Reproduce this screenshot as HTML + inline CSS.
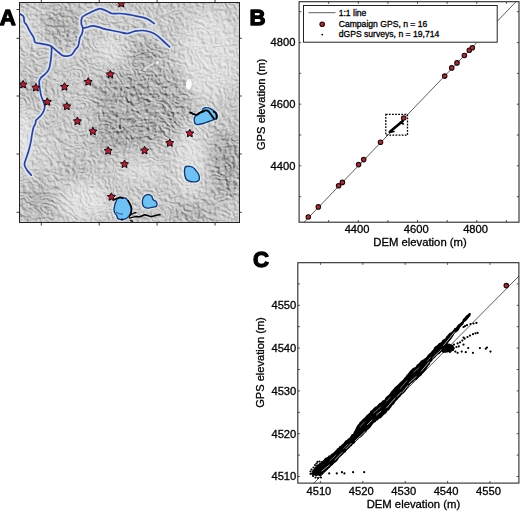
<!DOCTYPE html><html><head><meta charset="utf-8"><style>html,body{margin:0;padding:0;background:#fff;width:520px;height:511px;overflow:hidden}svg{display:block}text{font-family:"Liberation Sans",sans-serif}</style></head><body>
<svg width="520" height="511" viewBox="0 0 520 511">
<defs>
<clipPath id="mc"><rect x="19" y="2" width="221" height="221"/></clipPath>
<clipPath id="bc"><rect x="299" y="1.5" width="220" height="221"/></clipPath>
<clipPath id="cc"><rect x="298" y="262.5" width="221" height="221"/></clipPath>
<filter id="tx1" x="0" y="0" width="100%" height="100%" color-interpolation-filters="sRGB">
<feTurbulence type="fractalNoise" baseFrequency="0.035 0.04" numOctaves="5" seed="9"/>
<feComponentTransfer><feFuncR type="table" tableValues="0 0.5 0 0.5 0 0.5 0 0.5 0 0.5 0 0.5 0 0.5 0 0.5 0"/></feComponentTransfer>
<feColorMatrix type="matrix" values="0 0 0 0 0  0 0 0 0 0  0 0 0 0 0  1 0 0 0 0"/>
<feDiffuseLighting surfaceScale="3" diffuseConstant="1" lighting-color="#fff"><feDistantLight azimuth="315" elevation="45"/></feDiffuseLighting>
<feColorMatrix type="matrix" values="0.55 0 0 0 0.168  0.55 0 0 0 0.168  0.55 0 0 0 0.168  0 0 0 0 1"/>
</filter>
<filter id="tx2" x="0" y="0" width="100%" height="100%" color-interpolation-filters="sRGB">
<feTurbulence type="turbulence" baseFrequency="0.14 0.16" numOctaves="3" seed="8"/>
<feColorMatrix type="matrix" values="0 0 0 0 0  0 0 0 0 0  0 0 0 0 0  -2 0 0 0 1"/>
<feDiffuseLighting surfaceScale="2.5" diffuseConstant="1" lighting-color="#fff"><feDistantLight azimuth="315" elevation="45"/></feDiffuseLighting>
<feColorMatrix type="matrix" values="0.45 0 0 0 0.252  0.45 0 0 0 0.252  0.45 0 0 0 0.252  0 0 0 0 1"/>
</filter>
<filter id="tx3" x="0" y="0" width="100%" height="100%" color-interpolation-filters="sRGB">
<feTurbulence type="fractalNoise" baseFrequency="0.25" numOctaves="2" seed="2"/>
<feColorMatrix type="matrix" values="0 0 0 0 0  0 0 0 0 0  0 0 0 0 0  1 0 0 0 0"/>
<feDiffuseLighting surfaceScale="2" diffuseConstant="1" lighting-color="#fff"><feDistantLight azimuth="315" elevation="45"/></feDiffuseLighting>
<feColorMatrix type="matrix" values="0.5 0 0 0 0.170  0.5 0 0 0 0.170  0.5 0 0 0 0.170  0 0 0 0 1"/>
</filter>
<mask id="mk2" maskUnits="userSpaceOnUse" x="0" y="0" width="520" height="511"><g filter="url(#bl6)">
<ellipse cx="142" cy="112" rx="40" ry="36" fill="#fff" opacity="0.4"/>
<ellipse cx="72" cy="35" rx="24" ry="20" fill="#fff" opacity="0.5"/>
<ellipse cx="228" cy="180" rx="20" ry="28" fill="#fff" opacity="0.6"/>
<ellipse cx="145" cy="50" rx="18" ry="14" fill="#fff" opacity="0.5"/>
<path d="M96.0,85.0 C99.7,78.7 109.2,71.8 115.0,70.0 C120.8,68.2 125.2,73.7 131.0,74.0 C136.8,74.3 142.7,72.7 150.0,72.0 C157.3,71.3 169.0,67.7 175.0,70.0 C181.0,72.3 183.7,79.2 186.0,86.0 C188.3,92.8 189.8,103.7 189.0,111.0 C188.2,118.3 185.2,125.5 181.0,130.0 C176.8,134.5 169.2,135.8 164.0,138.0 C158.8,140.2 155.5,141.3 150.0,143.0 C144.5,144.7 136.8,147.5 131.0,148.0 C125.2,148.5 120.3,149.0 115.0,146.0 C109.7,143.0 102.7,136.3 99.0,130.0 C95.3,123.7 93.5,115.5 93.0,108.0 C92.5,100.5 92.3,91.3 96.0,85.0Z" fill="#fff" opacity="0.5"/>
</g></mask>
<filter id="bl6" x="-50%" y="-50%" width="200%" height="200%"><feGaussianBlur stdDeviation="7"/></filter>
<filter id="bl4" x="-50%" y="-50%" width="200%" height="200%"><feGaussianBlur stdDeviation="4"/></filter>
<filter id="bl3" x="-50%" y="-50%" width="200%" height="200%"><feGaussianBlur stdDeviation="3"/></filter>
</defs>
<g clip-path="url(#mc)">
<rect x="19" y="2" width="221" height="221" fill="#c8c8c8"/>
<g filter="url(#bl6)">
<ellipse cx="142" cy="112" rx="36" ry="32" fill="#808080" opacity="0.2"/>
<ellipse cx="62" cy="25" rx="20" ry="18" fill="#888888" opacity="0.35"/>
<ellipse cx="146" cy="58" rx="17" ry="16" fill="#858585" opacity="0.45"/>
<ellipse cx="226" cy="165" rx="15" ry="35" fill="#808080" opacity="0.5"/>
<ellipse cx="192" cy="213" rx="22" ry="11" fill="#888888" opacity="0.4"/>
<ellipse cx="38" cy="202" rx="20" ry="20" fill="#909090" opacity="0.35"/>
<ellipse cx="108" cy="140" rx="16" ry="12" fill="#888888" opacity="0.35"/>
<ellipse cx="75" cy="170" rx="14" ry="14" fill="#999999" opacity="0.25"/>
<ellipse cx="32" cy="88" rx="14" ry="16" fill="#999999" opacity="0.3"/>
<ellipse cx="210" cy="55" rx="30" ry="45" fill="#f4f4f4" opacity="0.45"/>
<ellipse cx="23" cy="140" rx="6" ry="34" fill="#ffffff" opacity="0.75"/>
<ellipse cx="190" cy="160" rx="15" ry="38" fill="#f8f8f8" opacity="0.45"/>
<ellipse cx="85" cy="200" rx="25" ry="18" fill="#fafafa" opacity="0.45"/>
<ellipse cx="110" cy="50" rx="14" ry="14" fill="#fafafa" opacity="0.45"/>
<ellipse cx="140" cy="172" rx="22" ry="9" fill="#fafafa" opacity="0.45"/>
<ellipse cx="45" cy="150" rx="10" ry="16" fill="#f0f0f0" opacity="0.3"/>
<ellipse cx="28" cy="30" rx="8" ry="16" fill="#ffffff" opacity="0.4"/>
</g>
<g filter="url(#bl4)">
<path d="M96.0,85.0 C99.7,78.7 109.2,71.8 115.0,70.0 C120.8,68.2 125.2,73.7 131.0,74.0 C136.8,74.3 142.7,72.7 150.0,72.0 C157.3,71.3 169.0,67.7 175.0,70.0 C181.0,72.3 183.7,79.2 186.0,86.0 C188.3,92.8 189.8,103.7 189.0,111.0 C188.2,118.3 185.2,125.5 181.0,130.0 C176.8,134.5 169.2,135.8 164.0,138.0 C158.8,140.2 155.5,141.3 150.0,143.0 C144.5,144.7 136.8,147.5 131.0,148.0 C125.2,148.5 120.3,149.0 115.0,146.0 C109.7,143.0 102.7,136.3 99.0,130.0 C95.3,123.7 93.5,115.5 93.0,108.0 C92.5,100.5 92.3,91.3 96.0,85.0Z" fill="#8a8a8a" opacity="0.35"/>
</g>
<rect x="19" y="2" width="221" height="221" filter="url(#tx1)" style="mix-blend-mode:overlay" opacity="0.9"/>
<rect x="19" y="2" width="221" height="221" filter="url(#tx3)" style="mix-blend-mode:overlay" opacity="0.6"/>
<rect x="19" y="2" width="221" height="221" filter="url(#tx2)" style="mix-blend-mode:overlay" mask="url(#mk2)"/>
<path d="M19.0,13.5 C19.2,13.6 19.7,13.8 20.5,14.3 C21.3,14.8 23.0,15.3 23.6,16.6 C24.2,17.9 23.9,20.6 24.4,22.0 C24.9,23.4 25.8,23.6 26.7,25.1 C27.6,26.6 28.6,29.1 29.8,31.2 C31.0,33.2 32.7,35.5 33.6,37.4 C34.5,39.2 33.8,41.2 35.2,42.3 C36.6,43.4 39.6,43.2 42.1,43.8 C44.6,44.4 48.9,45.1 50.5,45.8 C52.1,46.5 51.5,46.7 51.6,48.2 C51.7,49.7 51.5,52.7 51.3,55.0 C51.1,57.3 50.9,59.6 50.5,62.0 C50.1,64.3 49.8,67.1 48.9,69.1 C48.0,71.1 46.8,72.3 45.4,73.8 C44.0,75.3 41.7,76.5 40.7,77.9 C39.7,79.3 39.3,80.2 39.2,82.0 C39.1,83.8 39.5,86.7 39.9,89.0 C40.2,91.3 40.7,93.9 41.3,96.1 C41.9,98.3 43.0,100.2 43.6,102.0 C44.2,103.8 44.8,105.0 44.8,106.6 C44.8,108.1 44.2,109.8 43.6,111.3 C43.0,112.8 42.1,114.0 40.9,115.5 C39.6,117.0 37.0,118.9 36.1,120.3 C35.2,121.7 35.9,122.5 35.4,123.7 C34.9,125.0 34.0,126.0 33.4,127.8 C32.8,129.6 32.5,132.2 32.0,134.7 C31.5,137.2 31.2,140.2 30.6,142.9 C30.0,145.6 29.4,148.4 28.6,151.1 C27.8,153.8 26.5,157.0 25.8,159.3 C25.1,161.6 24.3,163.0 24.5,164.8 C24.7,166.6 26.1,168.6 27.2,170.3 C28.3,172.0 30.6,174.3 31.3,175.1" fill="none" stroke="#dbe6f8" stroke-width="5.2" stroke-linecap="round" stroke-linejoin="round" opacity="0.9"/>
<path d="M50.5,45.8 C51.0,46.2 52.2,47.0 53.6,48.2 C55.0,49.4 57.3,51.5 59.0,52.8 C60.7,54.1 61.6,55.4 63.6,55.8 C65.7,56.2 69.4,56.1 71.3,55.1 C73.2,54.1 74.0,51.2 75.2,49.7 C76.4,48.2 77.4,47.7 78.2,45.8 C79.0,43.9 79.2,40.2 79.8,38.2 C80.4,36.2 81.6,35.2 82.1,33.5 C82.6,31.8 82.9,29.9 82.8,28.2 C82.7,26.5 81.4,25.3 81.3,23.5 C81.2,21.7 81.2,18.9 82.1,17.4 C83.0,15.9 84.9,15.3 86.7,14.3 C88.5,13.3 90.8,12.1 92.8,11.2 C94.8,10.3 97.6,9.3 99.0,8.9 C100.4,8.5 99.8,8.5 101.2,8.9 C102.6,9.3 105.5,10.4 107.3,11.2 C109.1,12.0 109.9,13.1 111.9,13.5 C114.0,13.9 117.0,13.4 119.6,13.5 C122.2,13.6 124.7,13.9 127.3,14.3 C129.9,14.7 132.4,15.3 135.0,15.8 C137.6,16.3 140.4,16.8 142.7,17.4 C145.0,18.0 146.9,18.7 148.8,19.7 C150.7,20.7 153.3,22.9 154.2,23.5" fill="none" stroke="#dbe6f8" stroke-width="5.2" stroke-linecap="round" stroke-linejoin="round" opacity="0.9"/>
<path d="M82.8,28.2 C83.5,28.1 85.0,27.8 86.7,27.4 C88.4,27.0 90.7,25.8 92.8,25.8 C94.9,25.8 97.7,26.9 99.6,27.4 C101.5,27.9 102.2,28.4 104.2,28.9 C106.2,29.4 109.3,30.0 111.9,30.5 C114.5,31.0 117.0,31.5 119.6,32.0 C122.2,32.5 124.7,33.6 127.3,33.5 C129.9,33.4 132.4,31.7 135.0,31.2 C137.6,30.7 140.1,30.4 142.7,30.5 C145.3,30.6 148.1,31.2 150.4,32.0 C152.7,32.8 154.4,33.7 156.5,35.1 C158.6,36.5 160.5,38.5 162.7,40.5 C164.9,42.5 168.4,45.8 169.6,46.9" fill="none" stroke="#dbe6f8" stroke-width="5.2" stroke-linecap="round" stroke-linejoin="round" opacity="0.9"/>
<path d="M19.0,13.5 C19.2,13.6 19.7,13.8 20.5,14.3 C21.3,14.8 23.0,15.3 23.6,16.6 C24.2,17.9 23.9,20.6 24.4,22.0 C24.9,23.4 25.8,23.6 26.7,25.1 C27.6,26.6 28.6,29.1 29.8,31.2 C31.0,33.2 32.7,35.5 33.6,37.4 C34.5,39.2 33.8,41.2 35.2,42.3 C36.6,43.4 39.6,43.2 42.1,43.8 C44.6,44.4 48.9,45.1 50.5,45.8 C52.1,46.5 51.5,46.7 51.6,48.2 C51.7,49.7 51.5,52.7 51.3,55.0 C51.1,57.3 50.9,59.6 50.5,62.0 C50.1,64.3 49.8,67.1 48.9,69.1 C48.0,71.1 46.8,72.3 45.4,73.8 C44.0,75.3 41.7,76.5 40.7,77.9 C39.7,79.3 39.3,80.2 39.2,82.0 C39.1,83.8 39.5,86.7 39.9,89.0 C40.2,91.3 40.7,93.9 41.3,96.1 C41.9,98.3 43.0,100.2 43.6,102.0 C44.2,103.8 44.8,105.0 44.8,106.6 C44.8,108.1 44.2,109.8 43.6,111.3 C43.0,112.8 42.1,114.0 40.9,115.5 C39.6,117.0 37.0,118.9 36.1,120.3 C35.2,121.7 35.9,122.5 35.4,123.7 C34.9,125.0 34.0,126.0 33.4,127.8 C32.8,129.6 32.5,132.2 32.0,134.7 C31.5,137.2 31.2,140.2 30.6,142.9 C30.0,145.6 29.4,148.4 28.6,151.1 C27.8,153.8 26.5,157.0 25.8,159.3 C25.1,161.6 24.3,163.0 24.5,164.8 C24.7,166.6 26.1,168.6 27.2,170.3 C28.3,172.0 30.6,174.3 31.3,175.1" fill="none" stroke="#30428f" stroke-width="1.7" stroke-linecap="round" stroke-linejoin="round"/>
<path d="M50.5,45.8 C51.0,46.2 52.2,47.0 53.6,48.2 C55.0,49.4 57.3,51.5 59.0,52.8 C60.7,54.1 61.6,55.4 63.6,55.8 C65.7,56.2 69.4,56.1 71.3,55.1 C73.2,54.1 74.0,51.2 75.2,49.7 C76.4,48.2 77.4,47.7 78.2,45.8 C79.0,43.9 79.2,40.2 79.8,38.2 C80.4,36.2 81.6,35.2 82.1,33.5 C82.6,31.8 82.9,29.9 82.8,28.2 C82.7,26.5 81.4,25.3 81.3,23.5 C81.2,21.7 81.2,18.9 82.1,17.4 C83.0,15.9 84.9,15.3 86.7,14.3 C88.5,13.3 90.8,12.1 92.8,11.2 C94.8,10.3 97.6,9.3 99.0,8.9 C100.4,8.5 99.8,8.5 101.2,8.9 C102.6,9.3 105.5,10.4 107.3,11.2 C109.1,12.0 109.9,13.1 111.9,13.5 C114.0,13.9 117.0,13.4 119.6,13.5 C122.2,13.6 124.7,13.9 127.3,14.3 C129.9,14.7 132.4,15.3 135.0,15.8 C137.6,16.3 140.4,16.8 142.7,17.4 C145.0,18.0 146.9,18.7 148.8,19.7 C150.7,20.7 153.3,22.9 154.2,23.5" fill="none" stroke="#30428f" stroke-width="1.7" stroke-linecap="round" stroke-linejoin="round"/>
<path d="M82.8,28.2 C83.5,28.1 85.0,27.8 86.7,27.4 C88.4,27.0 90.7,25.8 92.8,25.8 C94.9,25.8 97.7,26.9 99.6,27.4 C101.5,27.9 102.2,28.4 104.2,28.9 C106.2,29.4 109.3,30.0 111.9,30.5 C114.5,31.0 117.0,31.5 119.6,32.0 C122.2,32.5 124.7,33.6 127.3,33.5 C129.9,33.4 132.4,31.7 135.0,31.2 C137.6,30.7 140.1,30.4 142.7,30.5 C145.3,30.6 148.1,31.2 150.4,32.0 C152.7,32.8 154.4,33.7 156.5,35.1 C158.6,36.5 160.5,38.5 162.7,40.5 C164.9,42.5 168.4,45.8 169.6,46.9" fill="none" stroke="#30428f" stroke-width="1.7" stroke-linecap="round" stroke-linejoin="round"/>
<ellipse cx="157.5" cy="62.5" rx="1.4" ry="2" fill="#f6f6f6" opacity="0.9"/>
<path d="M144,70 L149,66 L153,64" stroke="#eeeeee" stroke-width="1.6" fill="none" opacity="0.8" stroke-linecap="round"/>
<ellipse cx="188.9" cy="84.4" rx="2.9" ry="5.4" fill="#fcfcfc" transform="rotate(8 188.9 84.4)"/>
<path d="M194.3,120.1 C194.4,121.0 194.4,122.8 195.0,123.5 C195.6,124.2 196.4,124.6 197.8,124.6 C199.2,124.6 201.5,124.0 203.3,123.5 C205.2,123.0 207.2,122.1 208.9,121.5 C210.6,120.9 212.4,120.2 213.7,119.7 C215.0,119.2 216.0,119.5 216.5,118.5 C217.0,117.5 217.0,115.1 216.7,113.9 C216.3,112.7 215.4,112.1 214.4,111.2 C213.4,110.3 212.2,109.4 210.9,108.8 C209.6,108.2 208.1,107.6 206.8,107.6 C205.5,107.5 204.1,107.9 203.3,108.5 C202.5,109.1 202.7,110.2 201.9,111.1 C201.1,112.0 199.5,112.9 198.5,113.7 C197.5,114.5 196.4,115.2 195.7,115.9 C195.0,116.6 194.5,117.3 194.3,118.0 C194.1,118.7 194.2,119.2 194.3,120.1Z" fill="none" stroke="#e4eef8" stroke-width="4" opacity="0.7"/>
<path d="M185.2,167.0 C185.9,166.1 187.8,166.3 189.0,166.3 C190.2,166.3 191.4,166.4 192.5,167.0 C193.6,167.6 194.5,168.8 195.5,170.0 C196.5,171.2 197.8,172.7 198.5,174.0 C199.2,175.3 199.4,176.9 199.4,178.0 C199.4,179.1 199.2,180.2 198.5,180.8 C197.8,181.4 196.9,181.7 195.5,181.8 C194.1,181.9 191.5,181.9 190.0,181.5 C188.5,181.1 187.3,180.4 186.5,179.5 C185.7,178.6 185.3,177.3 185.0,176.0 C184.7,174.7 184.5,173.0 184.5,171.5 C184.5,170.0 184.4,167.9 185.2,167.0Z" fill="none" stroke="#e4eef8" stroke-width="4" opacity="0.7"/>
<path d="M148.3,194.5 C149.5,194.5 150.8,195.2 151.6,196.1 C152.4,196.9 152.3,198.7 153.0,199.6 C153.7,200.5 155.1,200.6 155.8,201.3 C156.5,202.1 156.9,203.2 157.0,204.1 C157.1,204.9 157.0,205.9 156.3,206.4 C155.6,206.9 154.0,206.9 153.0,207.1 C152.0,207.3 151.2,207.6 150.2,207.8 C149.2,208.0 148.0,208.3 146.9,208.1 C145.8,207.9 144.3,207.2 143.6,206.4 C142.9,205.7 142.7,204.8 142.5,203.6 C142.3,202.4 142.3,200.7 142.7,199.4 C143.0,198.2 143.7,196.9 144.6,196.1 C145.5,195.3 147.1,194.5 148.3,194.5Z" fill="none" stroke="#e4eef8" stroke-width="4" opacity="0.7"/>
<path d="M119.3,197.3 C120.1,197.1 121.0,198.2 122.0,198.3 C123.0,198.4 124.3,197.6 125.3,198.0 C126.3,198.4 127.2,199.5 128.0,200.6 C128.8,201.7 129.4,203.3 130.0,204.6 C130.6,205.9 131.2,207.1 131.3,208.6 C131.4,210.1 131.1,212.0 130.6,213.3 C130.1,214.6 129.4,215.7 128.6,216.6 C127.8,217.5 127.1,218.1 126.0,218.6 C124.9,219.1 123.3,219.6 122.0,219.6 C120.7,219.6 118.9,219.3 118.0,218.6 C117.1,217.9 117.2,216.3 116.6,215.3 C116.0,214.3 115.0,213.6 114.6,212.6 C114.2,211.6 114.0,210.4 114.0,209.3 C114.0,208.2 114.3,207.1 114.6,206.0 C114.9,204.9 115.2,203.6 115.6,202.5 C116.0,201.4 116.4,200.4 117.0,199.5 C117.6,198.6 118.5,197.5 119.3,197.3Z" fill="none" stroke="#e4eef8" stroke-width="4" opacity="0.7"/>
<path d="M194.3,120.1 C194.4,121.0 194.4,122.8 195.0,123.5 C195.6,124.2 196.4,124.6 197.8,124.6 C199.2,124.6 201.5,124.0 203.3,123.5 C205.2,123.0 207.2,122.1 208.9,121.5 C210.6,120.9 212.4,120.2 213.7,119.7 C215.0,119.2 216.0,119.5 216.5,118.5 C217.0,117.5 217.0,115.1 216.7,113.9 C216.3,112.7 215.4,112.1 214.4,111.2 C213.4,110.3 212.2,109.4 210.9,108.8 C209.6,108.2 208.1,107.6 206.8,107.6 C205.5,107.5 204.1,107.9 203.3,108.5 C202.5,109.1 202.7,110.2 201.9,111.1 C201.1,112.0 199.5,112.9 198.5,113.7 C197.5,114.5 196.4,115.2 195.7,115.9 C195.0,116.6 194.5,117.3 194.3,118.0 C194.1,118.7 194.2,119.2 194.3,120.1Z" fill="#6ec2f4" stroke="#17366e" stroke-width="1.35"/>
<path d="M185.2,167.0 C185.9,166.1 187.8,166.3 189.0,166.3 C190.2,166.3 191.4,166.4 192.5,167.0 C193.6,167.6 194.5,168.8 195.5,170.0 C196.5,171.2 197.8,172.7 198.5,174.0 C199.2,175.3 199.4,176.9 199.4,178.0 C199.4,179.1 199.2,180.2 198.5,180.8 C197.8,181.4 196.9,181.7 195.5,181.8 C194.1,181.9 191.5,181.9 190.0,181.5 C188.5,181.1 187.3,180.4 186.5,179.5 C185.7,178.6 185.3,177.3 185.0,176.0 C184.7,174.7 184.5,173.0 184.5,171.5 C184.5,170.0 184.4,167.9 185.2,167.0Z" fill="#6ec2f4" stroke="#17366e" stroke-width="1.35"/>
<path d="M148.3,194.5 C149.5,194.5 150.8,195.2 151.6,196.1 C152.4,196.9 152.3,198.7 153.0,199.6 C153.7,200.5 155.1,200.6 155.8,201.3 C156.5,202.1 156.9,203.2 157.0,204.1 C157.1,204.9 157.0,205.9 156.3,206.4 C155.6,206.9 154.0,206.9 153.0,207.1 C152.0,207.3 151.2,207.6 150.2,207.8 C149.2,208.0 148.0,208.3 146.9,208.1 C145.8,207.9 144.3,207.2 143.6,206.4 C142.9,205.7 142.7,204.8 142.5,203.6 C142.3,202.4 142.3,200.7 142.7,199.4 C143.0,198.2 143.7,196.9 144.6,196.1 C145.5,195.3 147.1,194.5 148.3,194.5Z" fill="#6ec2f4" stroke="#17366e" stroke-width="1.35"/>
<path d="M119.3,197.3 C120.1,197.1 121.0,198.2 122.0,198.3 C123.0,198.4 124.3,197.6 125.3,198.0 C126.3,198.4 127.2,199.5 128.0,200.6 C128.8,201.7 129.4,203.3 130.0,204.6 C130.6,205.9 131.2,207.1 131.3,208.6 C131.4,210.1 131.1,212.0 130.6,213.3 C130.1,214.6 129.4,215.7 128.6,216.6 C127.8,217.5 127.1,218.1 126.0,218.6 C124.9,219.1 123.3,219.6 122.0,219.6 C120.7,219.6 118.9,219.3 118.0,218.6 C117.1,217.9 117.2,216.3 116.6,215.3 C116.0,214.3 115.0,213.6 114.6,212.6 C114.2,211.6 114.0,210.4 114.0,209.3 C114.0,208.2 114.3,207.1 114.6,206.0 C114.9,204.9 115.2,203.6 115.6,202.5 C116.0,201.4 116.4,200.4 117.0,199.5 C117.6,198.6 118.5,197.5 119.3,197.3Z" fill="#6ec2f4" stroke="#17366e" stroke-width="1.35"/>
<path d="M116,212 C118,213.5 121,214.5 123,214" fill="none" stroke="#1d4a90" stroke-width="1"/>
<path d="M190.2,112.5 C190.7,112.7 192.0,113.4 193.0,113.8 C194.0,114.2 195.2,115.1 196.4,114.9 C197.6,114.7 198.9,113.3 199.9,112.8 C200.9,112.3 201.7,112.2 202.6,111.8 C203.5,111.4 204.5,110.5 205.4,110.4 C206.3,110.3 207.3,110.4 208.2,111.1 C209.1,111.8 210.0,113.3 210.9,114.5 C211.8,115.7 213.2,117.8 213.7,118.4" fill="none" stroke="#000" stroke-linecap="round" stroke-linejoin="round" stroke-width="1.9"/>
<path d="M213.7,111.6 C214.0,111.9 215.3,112.5 215.8,113.2 C216.3,113.9 216.6,115.1 216.7,116.0 C216.8,116.9 216.4,118.2 216.3,118.6" fill="none" stroke="#000" stroke-linecap="round" stroke-linejoin="round" stroke-width="1.9"/>
<path d="M113.3,200.0 C114.0,199.7 116.1,198.8 117.3,198.3 C118.5,197.9 119.6,197.4 120.6,197.3 C121.5,197.2 122.6,197.9 123.0,198.0" fill="none" stroke="#000" stroke-linecap="round" stroke-linejoin="round" stroke-width="1.7"/>
<path d="M128.0,200.6 C128.4,201.3 129.7,203.3 130.3,204.6 C130.9,205.9 131.5,207.1 131.6,208.6 C131.7,210.1 131.3,212.1 131.0,213.3 C130.7,214.5 129.8,215.6 129.5,216.0" fill="none" stroke="#000" stroke-linecap="round" stroke-linejoin="round" stroke-width="1.6"/>
<path d="M130.0,215.3 C130.5,215.0 132.0,213.9 133.0,213.5 C134.0,213.1 135.5,212.8 136.0,212.6" fill="none" stroke="#000" stroke-linecap="round" stroke-linejoin="round" stroke-width="1.3"/>
<path d="M129.3,218.0 C129.9,217.9 131.9,217.4 133.0,217.2 C134.1,217.0 135.5,216.7 136.0,216.6" fill="none" stroke="#000" stroke-linecap="round" stroke-linejoin="round" stroke-width="1.3"/>
<path d="M130.6,220.6 C130.9,220.7 132.3,221.2 132.6,221.3" fill="none" stroke="#000" stroke-linecap="round" stroke-linejoin="round" stroke-width="1.3"/>
<path d="M136.0,216.6 C136.7,216.6 139.1,216.9 140.4,216.6 C141.7,216.3 142.9,215.2 144.0,215.0 C145.1,214.8 146.0,215.1 147.1,215.3 C148.2,215.6 149.4,216.4 150.5,216.5 C151.6,216.6 152.7,216.2 153.8,216.0 C154.9,215.8 156.0,215.2 157.0,215.0 C158.0,214.8 159.4,214.7 159.9,214.6" fill="none" stroke="#000" stroke-linecap="round" stroke-linejoin="round" stroke-width="1.7"/>
<circle cx="122" cy="219.5" r="1" fill="#000"/>
<polygon points="23.10,80.40 24.33,82.90 27.09,83.30 25.10,85.25 25.57,88.00 23.10,86.70 20.63,88.00 21.10,85.25 19.11,83.30 21.87,82.90" fill="#a82438" stroke="#200306" stroke-width="1.0" stroke-linejoin="round"/>
<polygon points="35.90,83.50 37.13,86.00 39.89,86.40 37.90,88.35 38.37,91.10 35.90,89.80 33.43,91.10 33.90,88.35 31.91,86.40 34.67,86.00" fill="#a82438" stroke="#200306" stroke-width="1.0" stroke-linejoin="round"/>
<polygon points="47.30,97.80 48.53,100.30 51.29,100.70 49.30,102.65 49.77,105.40 47.30,104.10 44.83,105.40 45.30,102.65 43.31,100.70 46.07,100.30" fill="#a82438" stroke="#200306" stroke-width="1.0" stroke-linejoin="round"/>
<polygon points="64.50,82.70 65.73,85.20 68.49,85.60 66.50,87.55 66.97,90.30 64.50,89.00 62.03,90.30 62.50,87.55 60.51,85.60 63.27,85.20" fill="#a82438" stroke="#200306" stroke-width="1.0" stroke-linejoin="round"/>
<polygon points="88.20,77.70 89.43,80.20 92.19,80.60 90.20,82.55 90.67,85.30 88.20,84.00 85.73,85.30 86.20,82.55 84.21,80.60 86.97,80.20" fill="#a82438" stroke="#200306" stroke-width="1.0" stroke-linejoin="round"/>
<polygon points="110.40,70.20 111.63,72.70 114.39,73.10 112.40,75.05 112.87,77.80 110.40,76.50 107.93,77.80 108.40,75.05 106.41,73.10 109.17,72.70" fill="#a82438" stroke="#200306" stroke-width="1.0" stroke-linejoin="round"/>
<polygon points="66.80,102.20 68.03,104.70 70.79,105.10 68.80,107.05 69.27,109.80 66.80,108.50 64.33,109.80 64.80,107.05 62.81,105.10 65.57,104.70" fill="#a82438" stroke="#200306" stroke-width="1.0" stroke-linejoin="round"/>
<polygon points="77.40,117.10 78.63,119.60 81.39,120.00 79.40,121.95 79.87,124.70 77.40,123.40 74.93,124.70 75.40,121.95 73.41,120.00 76.17,119.60" fill="#a82438" stroke="#200306" stroke-width="1.0" stroke-linejoin="round"/>
<polygon points="92.90,127.20 94.13,129.70 96.89,130.10 94.90,132.05 95.37,134.80 92.90,133.50 90.43,134.80 90.90,132.05 88.91,130.10 91.67,129.70" fill="#a82438" stroke="#200306" stroke-width="1.0" stroke-linejoin="round"/>
<polygon points="108.20,146.70 109.43,149.20 112.19,149.60 110.20,151.55 110.67,154.30 108.20,153.00 105.73,154.30 106.20,151.55 104.21,149.60 106.97,149.20" fill="#a82438" stroke="#200306" stroke-width="1.0" stroke-linejoin="round"/>
<polygon points="124.50,160.00 125.73,162.50 128.49,162.90 126.50,164.85 126.97,167.60 124.50,166.30 122.03,167.60 122.50,164.85 120.51,162.90 123.27,162.50" fill="#a82438" stroke="#200306" stroke-width="1.0" stroke-linejoin="round"/>
<polygon points="144.60,146.40 145.83,148.90 148.59,149.30 146.60,151.25 147.07,154.00 144.60,152.70 142.13,154.00 142.60,151.25 140.61,149.30 143.37,148.90" fill="#a82438" stroke="#200306" stroke-width="1.0" stroke-linejoin="round"/>
<polygon points="169.80,138.80 171.03,141.30 173.79,141.70 171.80,143.65 172.27,146.40 169.80,145.10 167.33,146.40 167.80,143.65 165.81,141.70 168.57,141.30" fill="#a82438" stroke="#200306" stroke-width="1.0" stroke-linejoin="round"/>
<polygon points="189.80,129.20 191.03,131.70 193.79,132.10 191.80,134.05 192.27,136.80 189.80,135.50 187.33,136.80 187.80,134.05 185.81,132.10 188.57,131.70" fill="#a82438" stroke="#200306" stroke-width="1.0" stroke-linejoin="round"/>
<polygon points="111.40,192.80 112.63,195.30 115.39,195.70 113.40,197.65 113.87,200.40 111.40,199.10 108.93,200.40 109.40,197.65 107.41,195.70 110.17,195.30" fill="#a82438" stroke="#200306" stroke-width="1.0" stroke-linejoin="round"/>
<polygon points="121.20,-0.60 122.43,1.90 125.19,2.30 123.20,4.25 123.67,7.00 121.20,5.70 118.73,7.00 119.20,4.25 117.21,2.30 119.97,1.90" fill="#a82438" stroke="#200306" stroke-width="1.0" stroke-linejoin="round"/>
</g>
<rect x="19.5" y="2.5" width="220" height="220" fill="none" stroke="#222" stroke-width="1"/>
<line x1="41.3" y1="0" x2="41.3" y2="2.5" stroke="#222" stroke-width="0.9"/>
<line x1="41.3" y1="222.5" x2="41.3" y2="225.5" stroke="#222" stroke-width="0.9"/>
<line x1="99.2" y1="0" x2="99.2" y2="2.5" stroke="#222" stroke-width="0.9"/>
<line x1="99.2" y1="222.5" x2="99.2" y2="225.5" stroke="#222" stroke-width="0.9"/>
<line x1="157.1" y1="0" x2="157.1" y2="2.5" stroke="#222" stroke-width="0.9"/>
<line x1="157.1" y1="222.5" x2="157.1" y2="225.5" stroke="#222" stroke-width="0.9"/>
<line x1="215" y1="0" x2="215" y2="2.5" stroke="#222" stroke-width="0.9"/>
<line x1="215" y1="222.5" x2="215" y2="225.5" stroke="#222" stroke-width="0.9"/>
<line x1="16.5" y1="9.5" x2="19.5" y2="9.5" stroke="#222" stroke-width="0.9"/>
<line x1="16.5" y1="38.3" x2="19.5" y2="38.3" stroke="#222" stroke-width="0.9"/>
<line x1="16.5" y1="96" x2="19.5" y2="96" stroke="#222" stroke-width="0.9"/>
<line x1="16.5" y1="154" x2="19.5" y2="154" stroke="#222" stroke-width="0.9"/>
<line x1="16.5" y1="212.3" x2="19.5" y2="212.3" stroke="#222" stroke-width="0.9"/>
<line x1="239.5" y1="38.3" x2="241.8" y2="38.3" stroke="#222" stroke-width="0.9"/>
<line x1="239.5" y1="96" x2="241.8" y2="96" stroke="#222" stroke-width="0.9"/>
<line x1="239.5" y1="154" x2="241.8" y2="154" stroke="#222" stroke-width="0.9"/>
<line x1="239.5" y1="212.3" x2="241.8" y2="212.3" stroke="#222" stroke-width="0.9"/>
<text x="-0.3" y="25" font-size="22.2" font-weight="bold" fill="#000" stroke="#000" stroke-width="1.3" stroke-linejoin="round">A</text>
<text x="249.6" y="25.1" font-size="22.2" font-weight="bold" fill="#000" stroke="#000" stroke-width="1.3" stroke-linejoin="round">B</text>
<text x="253" y="266.5" font-size="22.2" font-weight="bold" fill="#000" stroke="#000" stroke-width="1.3" stroke-linejoin="round">C</text>
<g clip-path="url(#bc)"><line x1="299.06" y1="227.48" x2="524.172" y2="-6.751999999999981" stroke="#5e5e5e" stroke-width="1"/></g>
<path d="M389.9,131.7 L402.8,121.1" stroke="#000" stroke-width="2.6" stroke-linecap="round"/>
<path d="M389.5,132.5 L394,131.5" stroke="#000" stroke-width="1.6" stroke-linecap="round"/>
<path d="M400,122.5 L403.5,124" stroke="#000" stroke-width="1.4" stroke-linecap="round"/>
<rect x="385.8" y="114.4" width="21.7" height="20.8" fill="none" stroke="#000" stroke-width="1.3" stroke-dasharray="1.8 1.3"/>
<circle cx="308.3" cy="217" r="2.25" fill="#9a3444" stroke="#2a0404" stroke-width="1.1"/>
<circle cx="318.3" cy="206.9" r="2.25" fill="#9a3444" stroke="#2a0404" stroke-width="1.1"/>
<circle cx="338.6" cy="185.8" r="2.25" fill="#9a3444" stroke="#2a0404" stroke-width="1.1"/>
<circle cx="342.4" cy="182.4" r="2.25" fill="#9a3444" stroke="#2a0404" stroke-width="1.1"/>
<circle cx="358.6" cy="164.6" r="2.25" fill="#9a3444" stroke="#2a0404" stroke-width="1.1"/>
<circle cx="363.7" cy="159.6" r="2.25" fill="#9a3444" stroke="#2a0404" stroke-width="1.1"/>
<circle cx="380.5" cy="142.3" r="2.25" fill="#9a3444" stroke="#2a0404" stroke-width="1.1"/>
<circle cx="403.7" cy="118" r="2.25" fill="#9a3444" stroke="#2a0404" stroke-width="1.1"/>
<circle cx="444.7" cy="76.1" r="2.25" fill="#9a3444" stroke="#2a0404" stroke-width="1.1"/>
<circle cx="451.7" cy="67.9" r="2.25" fill="#9a3444" stroke="#2a0404" stroke-width="1.1"/>
<circle cx="457" cy="62.9" r="2.25" fill="#9a3444" stroke="#2a0404" stroke-width="1.1"/>
<circle cx="464.4" cy="55.5" r="2.25" fill="#9a3444" stroke="#2a0404" stroke-width="1.1"/>
<circle cx="469.3" cy="50.2" r="2.25" fill="#9a3444" stroke="#2a0404" stroke-width="1.1"/>
<circle cx="472.3" cy="47.8" r="2.25" fill="#9a3444" stroke="#2a0404" stroke-width="1.1"/>
<rect x="299.1" y="1.7" width="219.9" height="220.5" fill="none" stroke="#2a2a2a" stroke-width="1.1"/>
<line x1="328.7" y1="222.2" x2="328.7" y2="220.0" stroke="#2a2a2a" stroke-width="0.8"/>
<line x1="328.7" y1="1.7" x2="328.7" y2="3.9000000000000004" stroke="#2a2a2a" stroke-width="0.8"/>
<line x1="358.3" y1="222.2" x2="358.3" y2="220.0" stroke="#2a2a2a" stroke-width="0.8"/>
<line x1="358.3" y1="1.7" x2="358.3" y2="3.9000000000000004" stroke="#2a2a2a" stroke-width="0.8"/>
<line x1="387.9" y1="222.2" x2="387.9" y2="220.0" stroke="#2a2a2a" stroke-width="0.8"/>
<line x1="387.9" y1="1.7" x2="387.9" y2="3.9000000000000004" stroke="#2a2a2a" stroke-width="0.8"/>
<line x1="417.5" y1="222.2" x2="417.5" y2="220.0" stroke="#2a2a2a" stroke-width="0.8"/>
<line x1="417.5" y1="1.7" x2="417.5" y2="3.9000000000000004" stroke="#2a2a2a" stroke-width="0.8"/>
<line x1="447.2" y1="222.2" x2="447.2" y2="220.0" stroke="#2a2a2a" stroke-width="0.8"/>
<line x1="447.2" y1="1.7" x2="447.2" y2="3.9000000000000004" stroke="#2a2a2a" stroke-width="0.8"/>
<line x1="476.8" y1="222.2" x2="476.8" y2="220.0" stroke="#2a2a2a" stroke-width="0.8"/>
<line x1="476.8" y1="1.7" x2="476.8" y2="3.9000000000000004" stroke="#2a2a2a" stroke-width="0.8"/>
<line x1="506.4" y1="222.2" x2="506.4" y2="220.0" stroke="#2a2a2a" stroke-width="0.8"/>
<line x1="506.4" y1="1.7" x2="506.4" y2="3.9000000000000004" stroke="#2a2a2a" stroke-width="0.8"/>
<line x1="299.1" y1="196.7" x2="301.3" y2="196.7" stroke="#2a2a2a" stroke-width="0.8"/>
<line x1="519.0" y1="196.7" x2="516.8" y2="196.7" stroke="#2a2a2a" stroke-width="0.8"/>
<line x1="299.1" y1="165.8" x2="301.3" y2="165.8" stroke="#2a2a2a" stroke-width="0.8"/>
<line x1="519.0" y1="165.8" x2="516.8" y2="165.8" stroke="#2a2a2a" stroke-width="0.8"/>
<line x1="299.1" y1="135.0" x2="301.3" y2="135.0" stroke="#2a2a2a" stroke-width="0.8"/>
<line x1="519.0" y1="135.0" x2="516.8" y2="135.0" stroke="#2a2a2a" stroke-width="0.8"/>
<line x1="299.1" y1="104.2" x2="301.3" y2="104.2" stroke="#2a2a2a" stroke-width="0.8"/>
<line x1="519.0" y1="104.2" x2="516.8" y2="104.2" stroke="#2a2a2a" stroke-width="0.8"/>
<line x1="299.1" y1="73.4" x2="301.3" y2="73.4" stroke="#2a2a2a" stroke-width="0.8"/>
<line x1="519.0" y1="73.4" x2="516.8" y2="73.4" stroke="#2a2a2a" stroke-width="0.8"/>
<line x1="299.1" y1="42.6" x2="301.3" y2="42.6" stroke="#2a2a2a" stroke-width="0.8"/>
<line x1="519.0" y1="42.6" x2="516.8" y2="42.6" stroke="#2a2a2a" stroke-width="0.8"/>
<line x1="299.1" y1="11.7" x2="301.3" y2="11.7" stroke="#2a2a2a" stroke-width="0.8"/>
<line x1="519.0" y1="11.7" x2="516.8" y2="11.7" stroke="#2a2a2a" stroke-width="0.8"/>
<text x="357.1" y="232.9" font-size="11.2" text-anchor="middle" fill="#000" stroke="#000" stroke-width="0.3">4400</text>
<text x="295.4" y="169.6" font-size="11.2" text-anchor="end" fill="#000" stroke="#000" stroke-width="0.3">4400</text>
<text x="416.3" y="232.9" font-size="11.2" text-anchor="middle" fill="#000" stroke="#000" stroke-width="0.3">4600</text>
<text x="295.4" y="108.0" font-size="11.2" text-anchor="end" fill="#000" stroke="#000" stroke-width="0.3">4600</text>
<text x="475.6" y="232.9" font-size="11.2" text-anchor="middle" fill="#000" stroke="#000" stroke-width="0.3">4800</text>
<text x="295.4" y="46.4" font-size="11.2" text-anchor="end" fill="#000" stroke="#000" stroke-width="0.3">4800</text>
<text x="420" y="246" font-size="11.3" text-anchor="middle" fill="#000" stroke="#000" stroke-width="0.3">DEM elevation (m)</text>
<text transform="translate(265.2,104.4) rotate(-90)" font-size="11.2" text-anchor="middle" fill="#000" stroke="#000" stroke-width="0.3">GPS elevation (m)</text>
<rect x="303.5" y="5.5" width="193.7" height="36.7" fill="#fff" stroke="#222" stroke-width="1"/>
<line x1="308.5" y1="12.7" x2="335.5" y2="12.7" stroke="#5e5e5e" stroke-width="1"/>
<circle cx="322.2" cy="24.3" r="2.25" fill="#9a3444" stroke="#2a0404" stroke-width="1.1"/>
<circle cx="322.2" cy="34.6" r="0.9" fill="#000"/>
<text x="338.7" y="16.1" font-size="8.6" fill="#000" stroke="#000" stroke-width="0.3">1:1 line</text>
<text x="338.7" y="26.9" font-size="8.6" fill="#000" stroke="#000" stroke-width="0.3">Campaign GPS, n = 16</text>
<text x="338.7" y="37.4" font-size="8.6" fill="#000" stroke="#000" stroke-width="0.3">dGPS surveys, n = 19,714</text>
<g clip-path="url(#cc)">
<line x1="278.0" y1="519.3" x2="540.88" y2="253.94" stroke="#5e5e5e" stroke-width="1"/>
<path d="M312.1,470.8 L313.3,469.5 L314.7,467.8 L315.6,466.2 L316.5,465.1 L318.2,464.2 L319.3,463.3 L320.2,462.5 L321.5,462.3 L322.6,461.1 L324.2,459.2 L325.0,457.8 L326.1,457.7 L327.8,456.7 L328.9,455.3 L330.1,455.4 L331.1,454.0 L332.2,453.4 L333.9,452.3 L334.8,451.1 L336.2,450.1 L337.0,448.4 L338.3,448.0 L339.5,446.0 L340.9,445.8 L342.3,444.1 L343.3,443.4 L344.1,442.3 L345.8,440.2 L346.9,439.9 L347.8,438.8 L349.5,437.7 L350.4,436.4 L351.5,434.4 L353.1,433.7 L353.8,432.0 L355.1,429.7 L356.5,426.8 L357.5,424.9 L358.7,424.0 L359.7,422.1 L361.2,421.1 L362.3,419.5 L363.5,418.5 L365.1,417.3 L365.8,416.0 L367.3,414.8 L368.6,413.5 L369.7,412.7 L370.5,410.8 L371.8,410.3 L373.2,408.6 L374.3,407.4 L375.6,406.6 L376.6,406.3 L377.9,404.7 L379.1,403.3 L380.4,402.7 L381.8,401.6 L382.7,400.2 L384.3,400.0 L385.4,397.7 L386.5,396.6 L387.5,395.7 L389.1,394.4 L390.1,393.0 L391.1,391.6 L392.3,390.3 L393.6,388.7 L394.5,387.5 L396.2,386.0 L397.5,384.9 L398.5,384.1 L399.8,382.6 L400.7,381.7 L402.1,380.4 L403.2,379.5 L404.1,378.0 L405.7,376.4 L406.7,374.7 L407.9,373.8 L409.3,371.8 L410.6,370.2 L411.6,369.3 L413.0,367.9 L414.2,367.6 L415.5,366.9 L416.6,365.0 L417.7,363.9 L418.6,363.4 L420.1,361.7 L420.9,360.7 L422.6,359.8 L423.7,359.2 L424.5,358.4 L426.0,357.5 L427.1,356.0 L428.4,354.3 L429.7,353.2 L430.6,352.5 L432.1,350.6 L433.1,349.8 L434.1,347.6 L435.4,346.3 L437.0,345.2 L437.8,344.4 L439.1,343.1 L440.6,342.4 L441.7,341.4 L442.6,339.7 L444.2,339.1 L445.2,338.4 L446.4,336.2 L447.5,335.2 L448.7,333.8 L449.8,332.7 L451.1,332.2 L452.4,331.1 L453.5,329.7 L454.6,327.9 L455.9,327.8 L457.2,325.8 L458.2,324.6 L459.7,323.6 L460.5,322.7 L462.0,321.4 L463.0,318.9 L464.7,317.4 L465.5,316.2 L466.7,314.9 L467.8,314.4 L469.0,313.0 L470.7,313.0 L470.6,315.6 L469.0,317.4 L467.9,318.7 L466.5,320.5 L465.5,321.2 L464.2,322.2 L463.4,324.2 L462.0,325.6 L460.7,326.7 L459.9,328.1 L458.5,330.6 L457.3,331.6 L455.9,332.4 L454.6,333.5 L453.7,335.2 L452.2,337.4 L451.3,338.9 L449.7,340.8 L448.6,341.9 L447.8,343.7 L446.2,345.6 L445.3,347.8 L444.2,348.6 L442.6,349.8 L441.7,351.5 L440.6,352.8 L439.4,354.0 L438.1,354.5 L436.9,355.4 L435.9,356.7 L434.7,357.9 L432.9,359.6 L432.2,361.0 L430.6,362.2 L429.7,364.5 L428.2,365.9 L427.1,368.1 L426.0,369.7 L424.6,371.4 L423.9,372.5 L422.4,373.8 L421.2,375.7 L419.8,376.6 L418.7,377.2 L417.5,379.1 L416.5,380.0 L415.3,379.8 L413.7,381.6 L412.6,382.6 L411.4,383.3 L410.4,384.2 L409.1,385.9 L407.7,387.7 L407.0,388.7 L405.6,391.2 L404.4,392.4 L403.4,393.6 L401.7,394.6 L400.8,396.1 L399.6,397.3 L398.5,398.3 L397.3,400.0 L395.9,400.9 L394.7,403.1 L393.8,404.4 L392.2,405.6 L391.5,406.9 L390.3,408.3 L389.1,410.2 L387.4,410.9 L386.5,413.0 L385.0,413.9 L384.1,414.8 L382.9,416.0 L381.8,417.2 L380.4,418.6 L379.3,418.5 L377.8,420.3 L376.5,420.8 L375.7,422.0 L374.2,422.4 L372.9,423.8 L372.1,425.0 L370.8,426.9 L369.7,428.3 L368.5,429.3 L367.3,430.3 L366.3,432.0 L364.8,433.3 L363.8,434.6 L362.5,435.8 L361.3,436.9 L359.9,437.8 L358.9,438.6 L357.8,439.7 L356.3,440.7 L355.4,442.1 L354.2,443.8 L352.8,444.3 L351.5,446.2 L350.4,446.5 L349.5,447.9 L347.9,449.1 L346.6,450.4 L345.7,452.3 L344.1,453.0 L343.2,454.1 L341.9,455.2 L340.6,456.2 L339.3,457.6 L338.4,459.0 L337.3,460.9 L335.7,462.2 L334.6,463.1 L333.5,463.9 L332.2,465.5 L330.9,465.9 L329.7,467.9 L329.1,468.1 L327.5,469.7 L326.3,470.6 L325.1,472.0 L323.9,472.4 L322.9,474.3 L321.6,474.8 L320.7,475.9 L318.9,476.2 L318.2,475.3 L316.7,476.3 L315.6,476.0 L314.6,475.5 L312.9,475.8 L312.2,476.0Z" fill="#000"/>
<path d="M440,350 L444,345 L449,343.5 L453,345 L455,348.5 L452,351.5 L447,352.5 L443,353 Z" fill="#000"/>
<path d="M322.0,471.0 L329.2,465.1 M334.8,460.0 L342.0,452.7 M346.0,448.7 L351.3,443.3 M355.4,440.6 L365.0,431.7 M367.5,424.7 L372.1,420.0 M376.6,414.8 L380.9,411.3 M386.7,407.8 L395.3,397.9 M397.1,396.5 L401.2,392.2 M402.5,392.3 L407.8,385.6 M409.0,383.0 L416.2,376.6 M421.4,371.1 L429.1,362.0 M432.6,358.0 L441.2,349.7 M443.6,345.4 L454.6,331.9" stroke="#fff" stroke-width="0.8" opacity="0.85" fill="none" stroke-linecap="round"/>
<path d="M330.0,460.7 L335.8,455.3 M343.7,448.5 L347.8,444.3 M360.0,426.7 L364.6,421.9 M373.6,413.0 L380.5,407.3 M386.5,401.2 L390.3,397.0 M400.1,388.7 L407.0,380.7 M413.6,372.1 L419.1,367.6 M427.3,361.2 L430.6,357.2" stroke="#fff" stroke-width="0.6" opacity="0.7" fill="none" stroke-linecap="round"/>
<circle cx="310.5" cy="471.5" r="1.1" fill="#000"/>
<circle cx="311.5" cy="469.5" r="1.1" fill="#000"/>
<circle cx="312" cy="473.5" r="1.1" fill="#000"/>
<circle cx="313.5" cy="467.5" r="1.1" fill="#000"/>
<circle cx="315" cy="465" r="1.1" fill="#000"/>
<circle cx="316.5" cy="463.5" r="1.1" fill="#000"/>
<circle cx="317.5" cy="461.8" r="1.1" fill="#000"/>
<circle cx="319.5" cy="461.5" r="1.1" fill="#000"/>
<circle cx="322" cy="462" r="1.1" fill="#000"/>
<circle cx="313" cy="476" r="1.1" fill="#000"/>
<circle cx="315.5" cy="477.5" r="1.1" fill="#000"/>
<circle cx="318" cy="478" r="1.1" fill="#000"/>
<circle cx="321" cy="477.5" r="1.1" fill="#000"/>
<circle cx="310.5" cy="474" r="1.1" fill="#000"/>
<circle cx="323" cy="466" r="1.1" fill="#000"/>
<circle cx="324.5" cy="464" r="1.1" fill="#000"/>
<circle cx="329.2" cy="473.4" r="1.1" fill="#000"/>
<circle cx="336.8" cy="473.4" r="1.1" fill="#000"/>
<circle cx="341.9" cy="472.2" r="1.1" fill="#000"/>
<circle cx="344.4" cy="473.4" r="1.1" fill="#000"/>
<circle cx="353.1" cy="472.2" r="1.1" fill="#000"/>
<circle cx="364.2" cy="472.2" r="1.1" fill="#000"/>
<circle cx="452.3" cy="348.1" r="1.1" fill="#000"/>
<circle cx="455.3" cy="351.6" r="1.1" fill="#000"/>
<circle cx="456.4" cy="347" r="1.1" fill="#000"/>
<circle cx="457.6" cy="352.8" r="1.1" fill="#000"/>
<circle cx="458.8" cy="346.4" r="1.1" fill="#000"/>
<circle cx="461.7" cy="351.6" r="1.1" fill="#000"/>
<circle cx="463.5" cy="344.6" r="1.1" fill="#000"/>
<circle cx="465.8" cy="352.2" r="1.1" fill="#000"/>
<circle cx="468.2" cy="348.1" r="1.1" fill="#000"/>
<circle cx="472.9" cy="352.8" r="1.1" fill="#000"/>
<circle cx="479.9" cy="348.1" r="1.1" fill="#000"/>
<circle cx="485.8" cy="348.7" r="1.1" fill="#000"/>
<circle cx="487" cy="347.5" r="1.1" fill="#000"/>
<circle cx="490.5" cy="351.6" r="1.1" fill="#000"/>
<circle cx="454" cy="344.6" r="1.1" fill="#000"/>
<circle cx="457.6" cy="343.4" r="1.1" fill="#000"/>
<circle cx="460" cy="342.3" r="1.1" fill="#000"/>
<circle cx="462.3" cy="340.5" r="1.1" fill="#000"/>
<circle cx="463.5" cy="337.6" r="1.1" fill="#000"/>
<circle cx="449" cy="349" r="1.1" fill="#000"/>
<circle cx="451" cy="346" r="1.1" fill="#000"/>
<circle cx="447.5" cy="351" r="1.1" fill="#000"/>
<circle cx="450" cy="352" r="1.1" fill="#000"/>
<circle cx="453" cy="350" r="1.1" fill="#000"/>
<circle cx="463.5" cy="327" r="1.1" fill="#000"/>
<circle cx="465" cy="326.2" r="1.1" fill="#000"/>
<circle cx="467" cy="325.2" r="1.1" fill="#000"/>
<circle cx="470.5" cy="324" r="1.1" fill="#000"/>
<circle cx="473.5" cy="323.5" r="1.1" fill="#000"/>
<circle cx="476.4" cy="322.9" r="1.1" fill="#000"/>
<circle cx="464.6" cy="338.7" r="1.1" fill="#000"/>
<circle cx="467.5" cy="337" r="1.1" fill="#000"/>
<circle cx="470" cy="335.6" r="1.1" fill="#000"/>
<circle cx="473" cy="334.2" r="1.1" fill="#000"/>
<circle cx="475.5" cy="333.3" r="1.1" fill="#000"/>
<circle cx="477.6" cy="332.9" r="1.1" fill="#000"/>
<circle cx="506.3" cy="285.6" r="2.25" fill="#9a3444" stroke="#2a0404" stroke-width="1.1"/>
</g>
<rect x="297.8" y="262.7" width="221.1" height="220.4" fill="none" stroke="#2a2a2a" stroke-width="1.1"/>
<line x1="320.4" y1="483.1" x2="320.4" y2="480.90000000000003" stroke="#2a2a2a" stroke-width="0.8"/>
<line x1="320.4" y1="262.7" x2="320.4" y2="264.9" stroke="#2a2a2a" stroke-width="0.8"/>
<line x1="297.8" y1="476.5" x2="300.0" y2="476.5" stroke="#2a2a2a" stroke-width="0.8"/>
<line x1="518.9" y1="476.5" x2="516.6999999999999" y2="476.5" stroke="#2a2a2a" stroke-width="0.8"/>
<line x1="297.8" y1="455.1" x2="300.0" y2="455.1" stroke="#2a2a2a" stroke-width="0.8"/>
<line x1="518.9" y1="455.1" x2="516.6999999999999" y2="455.1" stroke="#2a2a2a" stroke-width="0.8"/>
<line x1="362.8" y1="483.1" x2="362.8" y2="480.90000000000003" stroke="#2a2a2a" stroke-width="0.8"/>
<line x1="362.8" y1="262.7" x2="362.8" y2="264.9" stroke="#2a2a2a" stroke-width="0.8"/>
<line x1="297.8" y1="433.7" x2="300.0" y2="433.7" stroke="#2a2a2a" stroke-width="0.8"/>
<line x1="518.9" y1="433.7" x2="516.6999999999999" y2="433.7" stroke="#2a2a2a" stroke-width="0.8"/>
<line x1="297.8" y1="412.3" x2="300.0" y2="412.3" stroke="#2a2a2a" stroke-width="0.8"/>
<line x1="518.9" y1="412.3" x2="516.6999999999999" y2="412.3" stroke="#2a2a2a" stroke-width="0.8"/>
<line x1="405.2" y1="483.1" x2="405.2" y2="480.90000000000003" stroke="#2a2a2a" stroke-width="0.8"/>
<line x1="405.2" y1="262.7" x2="405.2" y2="264.9" stroke="#2a2a2a" stroke-width="0.8"/>
<line x1="297.8" y1="390.9" x2="300.0" y2="390.9" stroke="#2a2a2a" stroke-width="0.8"/>
<line x1="518.9" y1="390.9" x2="516.6999999999999" y2="390.9" stroke="#2a2a2a" stroke-width="0.8"/>
<line x1="297.8" y1="369.5" x2="300.0" y2="369.5" stroke="#2a2a2a" stroke-width="0.8"/>
<line x1="518.9" y1="369.5" x2="516.6999999999999" y2="369.5" stroke="#2a2a2a" stroke-width="0.8"/>
<line x1="447.6" y1="483.1" x2="447.6" y2="480.90000000000003" stroke="#2a2a2a" stroke-width="0.8"/>
<line x1="447.6" y1="262.7" x2="447.6" y2="264.9" stroke="#2a2a2a" stroke-width="0.8"/>
<line x1="297.8" y1="348.1" x2="300.0" y2="348.1" stroke="#2a2a2a" stroke-width="0.8"/>
<line x1="518.9" y1="348.1" x2="516.6999999999999" y2="348.1" stroke="#2a2a2a" stroke-width="0.8"/>
<line x1="297.8" y1="326.7" x2="300.0" y2="326.7" stroke="#2a2a2a" stroke-width="0.8"/>
<line x1="518.9" y1="326.7" x2="516.6999999999999" y2="326.7" stroke="#2a2a2a" stroke-width="0.8"/>
<line x1="490.0" y1="483.1" x2="490.0" y2="480.90000000000003" stroke="#2a2a2a" stroke-width="0.8"/>
<line x1="490.0" y1="262.7" x2="490.0" y2="264.9" stroke="#2a2a2a" stroke-width="0.8"/>
<line x1="297.8" y1="305.3" x2="300.0" y2="305.3" stroke="#2a2a2a" stroke-width="0.8"/>
<line x1="518.9" y1="305.3" x2="516.6999999999999" y2="305.3" stroke="#2a2a2a" stroke-width="0.8"/>
<line x1="297.8" y1="283.9" x2="300.0" y2="283.9" stroke="#2a2a2a" stroke-width="0.8"/>
<line x1="518.9" y1="283.9" x2="516.6999999999999" y2="283.9" stroke="#2a2a2a" stroke-width="0.8"/>
<text x="318.9" y="494.7" font-size="11.2" text-anchor="middle" fill="#000" stroke="#000" stroke-width="0.3">4510</text>
<text x="296.3" y="480.4" font-size="11.2" text-anchor="end" fill="#000" stroke="#000" stroke-width="0.3">4510</text>
<text x="361.3" y="494.7" font-size="11.2" text-anchor="middle" fill="#000" stroke="#000" stroke-width="0.3">4520</text>
<text x="296.3" y="437.6" font-size="11.2" text-anchor="end" fill="#000" stroke="#000" stroke-width="0.3">4520</text>
<text x="403.7" y="494.7" font-size="11.2" text-anchor="middle" fill="#000" stroke="#000" stroke-width="0.3">4530</text>
<text x="296.3" y="394.8" font-size="11.2" text-anchor="end" fill="#000" stroke="#000" stroke-width="0.3">4530</text>
<text x="446.1" y="494.7" font-size="11.2" text-anchor="middle" fill="#000" stroke="#000" stroke-width="0.3">4540</text>
<text x="296.3" y="352.0" font-size="11.2" text-anchor="end" fill="#000" stroke="#000" stroke-width="0.3">4540</text>
<text x="488.5" y="494.7" font-size="11.2" text-anchor="middle" fill="#000" stroke="#000" stroke-width="0.3">4550</text>
<text x="296.3" y="309.2" font-size="11.2" text-anchor="end" fill="#000" stroke="#000" stroke-width="0.3">4550</text>
<text x="413.4" y="508" font-size="11.3" text-anchor="middle" fill="#000" stroke="#000" stroke-width="0.3">DEM elevation (m)</text>
<text transform="translate(264,362.5) rotate(-90)" font-size="11.1" text-anchor="middle" fill="#000" stroke="#000" stroke-width="0.3">GPS elevation (m)</text>
</svg></body></html>
